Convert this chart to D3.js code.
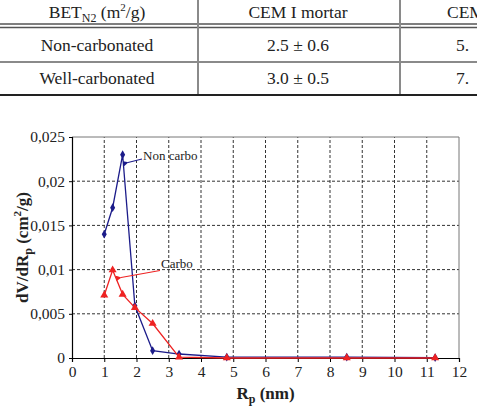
<!DOCTYPE html>
<html>
<head>
<meta charset="utf-8">
<script src="https://d3js.org/d3.v7.min.js"></script>
</head>
<body style="margin:0; background:#fff">
<svg width="477" height="410"></svg>
<script>
// table contents
const tableRows = ["Non-carbonated", "Well-carbonated"];
const tableCol1 = ["2.5 \u00b1 0.6", "3.0 \u00b1 0.5"];
const tableCol2 = ["5.", "7."];

// chart data
const rp = [1.0, 1.26, 1.57, 1.95, 2.5, 3.32, 4.8, 8.52, 11.26];
const nonCarbo = [0.014, 0.017, 0.023, 0.0059, 0.00083, 0.00045, 0.0001, 0.0001, 0.00005];
const carbo = [0.0071, 0.00995, 0.0072, 0.0057, 0.0039, 0.0001, 0.0000, 0.0000, 0.0000];
const xTicks = d3.range(0, 13);
const yTicks = [0, 0.005, 0.01, 0.015, 0.02, 0.025];

const FONT = "Liberation Serif";
const svg = d3.select("svg");

// ---- table ----
const t = svg.append("g").attr("class", "table");
const lineGray = "#8a8a8a";
t.append("line").attr("x1", 0).attr("x2", 477).attr("y1", 24).attr("y2", 24).attr("stroke", "#555").attr("stroke-width", 1.5);
t.append("line").attr("x1", 0).attr("x2", 477).attr("y1", 27.5).attr("y2", 27.5).attr("stroke", "#555").attr("stroke-width", 1.5);
t.append("line").attr("x1", 0).attr("x2", 477).attr("y1", 62).attr("y2", 62).attr("stroke", lineGray).attr("stroke-width", 2);
t.append("line").attr("x1", 0).attr("x2", 477).attr("y1", 95).attr("y2", 95).attr("stroke", "#222").attr("stroke-width", 2.2);
[198, 400].forEach(x => {
  t.append("line").attr("x1", x).attr("x2", x).attr("y1", 0).attr("y2", 94).attr("stroke", lineGray).attr("stroke-width", 2);
});

const hdr = t.append("text").attr("x", 97).attr("y", 18).attr("text-anchor", "middle")
  .attr("font-size", 17.5).attr("fill", "#222");
hdr.append("tspan").text("BET");
hdr.append("tspan").attr("dy", 4).attr("font-size", 12).text("N2");
hdr.append("tspan").attr("dy", -4).text(" (m");
hdr.append("tspan").attr("dy", -7).attr("font-size", 11).text("2");
hdr.append("tspan").attr("dy", 7).text("/g)");

t.append("text").attr("x", 298).attr("y", 18).attr("text-anchor", "middle")
  .attr("font-size", 17.5).attr("fill", "#222").text("CEM I mortar");
t.append("text").attr("x", 447).attr("y", 18)
  .attr("font-size", 17.5).attr("fill", "#222").text("CEM");

tableRows.forEach((r, i) => {
  const y = 51 + i * 33;
  t.append("text").attr("x", 97).attr("y", y).attr("text-anchor", "middle")
    .attr("font-size", 17.5).attr("fill", "#222").text(r);
  t.append("text").attr("x", 298).attr("y", y).attr("text-anchor", "middle")
    .attr("font-size", 17.5).attr("fill", "#222").text(tableCol1[i]);
  t.append("text").attr("x", 456).attr("y", y)
    .attr("font-size", 17.5).attr("fill", "#222").text(tableCol2[i]);
});

// ---- chart ----
const x = d3.scaleLinear().domain([0, 12]).range([72, 459]);
const y = d3.scaleLinear().domain([0, 0.025]).range([358, 137]);

const g = svg.append("g").attr("class", "chart");

// grid
g.selectAll(".vgrid").data(xTicks.filter(d => d > 0 && d < 12)).enter().append("line")
  .attr("x1", d => x(d)).attr("x2", d => x(d)).attr("y1", y(0)).attr("y2", y(0.025))
  .attr("stroke", "#333").attr("stroke-width", 1).attr("stroke-dasharray", "3,2");
g.selectAll(".hgrid").data(yTicks.filter(d => d > 0 && d < 0.025)).enter().append("line")
  .attr("x1", x(0)).attr("x2", x(12)).attr("y1", d => y(d)).attr("y2", d => y(d))
  .attr("stroke", "#333").attr("stroke-width", 1).attr("stroke-dasharray", "3,2");
// border top / right
g.append("line").attr("x1", x(0)).attr("x2", x(12)).attr("y1", y(0.025)).attr("y2", y(0.025))
  .attr("stroke", "#777").attr("stroke-width", 1);
g.append("line").attr("x1", x(12)).attr("x2", x(12)).attr("y1", y(0)).attr("y2", y(0.025))
  .attr("stroke", "#777").attr("stroke-width", 1);

// axes
const fmt = d => d === 0 ? "0" : d3.format(".3~f")(d).replace(".", ",");
const xAxis = g.append("g").attr("transform", "translate(0," + y(0) + ")")
  .call(d3.axisBottom(x).tickValues(xTicks).tickSize(4).tickPadding(4).tickFormat(d3.format("d")));
const yAxis = g.append("g").attr("transform", "translate(" + x(0) + ",0)")
  .call(d3.axisLeft(y).tickValues(yTicks).tickSize(3).tickPadding(4).tickFormat(fmt));
[xAxis, yAxis].forEach(a => {
  a.attr("font-size", 15.5);
  a.select(".domain").attr("stroke", "#000").attr("stroke-width", 1.2);
  a.selectAll(".tick line").attr("stroke", "#000");
  a.selectAll("text").attr("fill", "#222").attr("font-size", 15.5);
});

// axis titles
const xt = g.append("text").attr("x", x(6)).attr("y", 399).attr("text-anchor", "middle")
  .attr("font-size", 17).attr("font-weight", "bold").attr("fill", "#222");
xt.append("tspan").text("R");
xt.append("tspan").attr("dy", 4).attr("font-size", 12).text("p");
xt.append("tspan").attr("dy", -4).text(" (nm)");

const yt = g.append("text").attr("transform", "translate(28," + ((y(0) + y(0.025)) / 2) + ") rotate(-90)")
  .attr("text-anchor", "middle")
  .attr("font-size", 17).attr("font-weight", "bold").attr("fill", "#222");
yt.append("tspan").text("dV/dR");
yt.append("tspan").attr("dy", 4).attr("font-size", 12).text("p");
yt.append("tspan").attr("dy", -4).text(" (cm");
yt.append("tspan").attr("dy", -7).attr("font-size", 11).text("2");
yt.append("tspan").attr("dy", 7).text("/g)");

// series
const blue = "#1c1c8a", red = "#ee2222";
const series = [
  { vals: nonCarbo, color: blue, sym: d3.symbolDiamond, size: 22 },
  { vals: carbo, color: red, sym: d3.symbolTriangle, size: 28 }
];
series.forEach(s => {
  const pts = rp.map((r, i) => [r, s.vals[i]]);
  g.append("path").datum(pts)
    .attr("d", d3.line().x(d => x(d[0])).y(d => y(d[1])))
    .attr("fill", "none").attr("stroke", s.color).attr("stroke-width", 1.3);
  g.selectAll(null).data(pts).enter().append("path")
    .attr("transform", d => "translate(" + x(d[0]) + "," + y(d[1]) + ")")
    .attr("d", d3.symbol().type(s.sym).size(s.size))
    .attr("fill", s.color);
});

// annotations
svg.append("defs").selectAll("marker").data([["arrB", blue], ["arrR", red]]).enter()
  .append("marker").attr("id", d => d[0]).attr("viewBox", "0 0 10 10")
  .attr("refX", 1).attr("refY", 5).attr("markerWidth", 5).attr("markerHeight", 5)
  .attr("orient", "auto-start-reverse")
  .append("path").attr("d", "M10,0 L0,5 L10,10 z").attr("fill", d => d[1]);

g.append("line").attr("x1", 142).attr("y1", 159).attr("x2", 128).attr("y2", 162.5)
  .attr("stroke", blue).attr("stroke-width", 1.1).attr("marker-end", "url(#arrB)");
g.append("text").attr("x", 143).attr("y", 160).attr("font-size", 13).attr("fill", "#222").text("Non carbo");

g.append("line").attr("x1", 160).attr("y1", 270.5).attr("x2", 121).attr("y2", 277.5)
  .attr("stroke", red).attr("stroke-width", 1.1).attr("marker-end", "url(#arrR)");
g.append("text").attr("x", 161).attr("y", 268).attr("font-size", 13).attr("fill", "#222").text("Carbo");

// serif font on every text element
svg.selectAll("text, tspan").attr("font-family", FONT);
</script>
</body>
</html>
